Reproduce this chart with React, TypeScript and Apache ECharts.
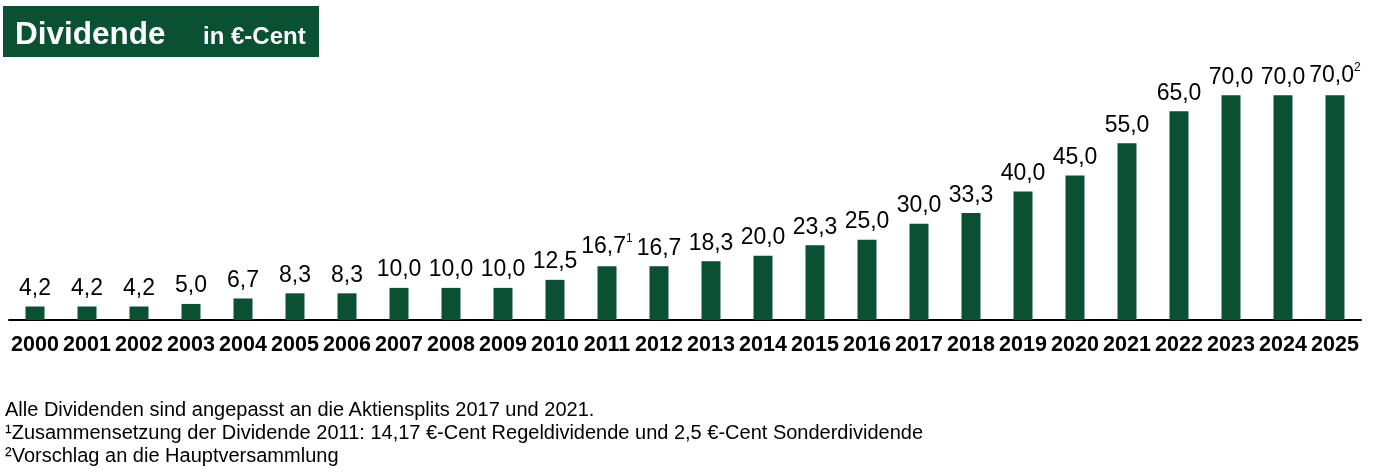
import React, { useEffect, useRef } from "react";
import * as echarts from "echarts";

const years = ["2000","2001","2002","2003","2004","2005","2006","2007","2008","2009","2010","2011","2012","2013","2014","2015","2016","2017","2018","2019","2020","2021","2022","2023","2024","2025"];
const dividends = [4.2,4.2,4.2,5.0,6.7,8.3,8.3,10.0,10.0,10.0,12.5,16.7,16.7,18.3,20.0,23.3,25.0,30.0,33.3,40.0,45.0,55.0,65.0,70.0,70.0,70.0];
const footnoteMarks: Record<string, string> = { "2011": "1", "2025": "2" };
const footnotes = [
  "Alle Dividenden sind angepasst an die Aktiensplits 2017 und 2021.",
  "¹Zusammensetzung der Dividende 2011: 14,17 €-Cent Regeldividende und 2,5 €-Cent Sonderdividende",
  "²Vorschlag an die Hauptversammlung",
];

const GREEN = "#0a5033";
const FONT = "Liberation Sans, Arial, sans-serif";

export default function App() {
  const ref = useRef<HTMLDivElement>(null);
  useEffect(() => {
    const chart = echarts.init(ref.current!, null, { renderer: "svg" });
    chart.setOption({
      animation: false,
      grid: { left: 9, right: 12, top: 63, bottom: 153, containLabel: false },
      xAxis: {
        type: "category",
        data: years,
        axisLine: { lineStyle: { color: "#000", width: 2 } },
        axisTick: { show: false },
        axisLabel: { fontFamily: FONT, fontWeight: "bold", fontSize: 21.5, color: "#000", margin: 13, interval: 0 },
      },
      yAxis: { type: "value", min: 0, max: 80, show: false, splitLine: { show: false } },
      series: [
        {
          type: "bar",
          data: dividends,
          barWidth: 19,
          itemStyle: { color: GREEN },
          label: {
            show: true,
            position: "top",
            distance: 8,
            fontFamily: FONT,
            fontSize: 23,
            color: "#000",
            formatter: (p: any) => {
              const s = p.value.toFixed(1).replace(".", ",");
              const m = footnoteMarks[years[p.dataIndex]];
              return m ? s + "{sup|" + m + "}" : s;
            },
            rich: {
              sup: { fontFamily: FONT, fontSize: 12, color: "#000", verticalAlign: "top", padding: [0, 0, 14, 0] },
            },
          },
        },
      ],
      graphic: [
        { type: "rect", shape: { x: 3, y: 6, width: 316, height: 51 }, style: { fill: GREEN } },
        { type: "text", x: 15, y: 33, style: { text: "Dividende", fill: "#fff", font: "bold 31.5px " + FONT, verticalAlign: "middle" } },
        { type: "text", x: 203, y: 35, style: { text: "in €-Cent", fill: "#fff", font: "bold 24px " + FONT, verticalAlign: "middle" } },
        ...footnotes.map((t, i) => ({
          type: "text",
          x: 5,
          y: 409 + i * 23,
          style: { text: t, fill: "#000", font: "20px " + FONT, verticalAlign: "middle" },
        })),
      ],
    });
    return () => chart.dispose();
  }, []);
  return <div ref={ref} style={{ position: "fixed", left: 0, top: 0, width: 1373, height: 473 }} />;
}
